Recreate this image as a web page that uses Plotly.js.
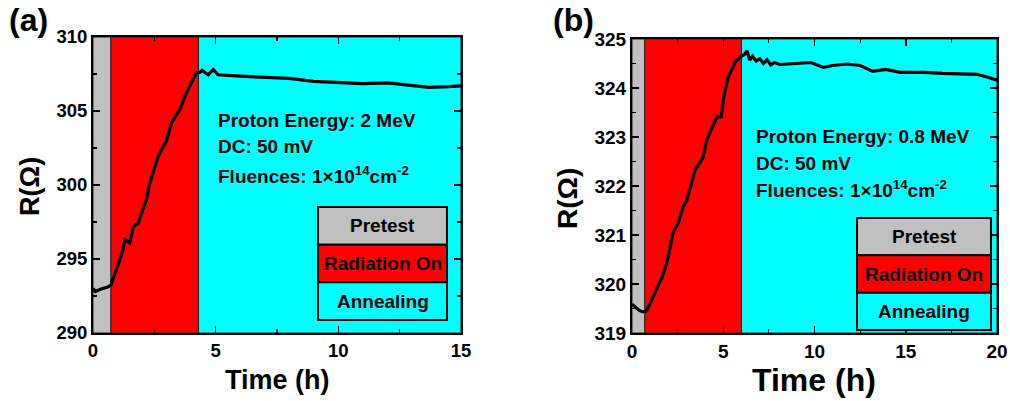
<!DOCTYPE html>
<html>
<head>
<meta charset="utf-8">
<script src="https://cdn.plot.ly/plotly-3.0.1.min.js"></script>
<style>html,body{margin:0;padding:0;background:#fff;}#chart{width:1010px;height:401px;}</style>
</head>
<body>
<div id="chart"></div>
<script>
// ---------- data ----------
const timeA = [0, 0.1, 0.3, 0.6, 0.73, 0.9, 1.17, 1.3, 1.45, 1.5, 1.64, 1.84, 2.0, 2.18, 2.28, 2.44, 2.65, 2.8, 3.0, 3.2, 3.54, 3.8, 4.0, 4.22, 4.35, 4.45, 4.6, 4.7, 4.9, 5.1, 6, 7, 8, 9, 10.3, 11, 12, 13, 13.7, 14.5, 15];
const resA = [293.0, 292.8, 292.95, 293.1, 293.24, 294.05, 295.3, 296.3, 296.15, 296.1, 297.2, 297.4, 298.2, 299.0, 299.9, 300.8, 301.9, 302.4, 303.0, 304.2, 305.1, 306.2, 306.9, 307.6, 307.6, 307.75, 307.55, 307.45, 307.8, 307.45, 307.35, 307.3, 307.2, 307.0, 306.9, 306.85, 306.9, 306.75, 306.6, 306.65, 306.7];

const timeB = [0, 0.2, 0.4, 0.6, 0.8, 1.0, 1.2, 1.37, 1.65, 1.92, 2.1, 2.25, 2.53, 2.8, 3.0, 3.15, 3.46, 3.9, 4.1, 4.4, 4.67, 4.9, 5.0, 5.27, 5.66, 5.93, 6.0, 6.15, 6.3, 6.45, 6.6, 6.8, 7.0, 7.2, 7.4, 7.6, 7.8, 8.1, 9.0, 9.8, 10.5, 11.0, 11.8, 12.5, 13.2, 13.9, 14.7, 16, 17, 18, 18.9, 19.5, 20];
const resB = [319.59, 319.52, 319.46, 319.43, 319.45, 319.61, 319.78, 319.92, 320.14, 320.45, 320.8, 321.04, 321.24, 321.57, 321.7, 321.92, 322.33, 322.59, 322.94, 323.2, 323.41, 323.41, 323.76, 324.22, 324.53, 324.63, 324.65, 324.68, 324.76, 324.57, 324.65, 324.55, 324.6, 324.5, 324.58, 324.47, 324.52, 324.48, 324.5, 324.52, 324.42, 324.46, 324.49, 324.46, 324.34, 324.38, 324.32, 324.32, 324.3, 324.29, 324.28, 324.22, 324.16];

// tick values / labels
const xTicksA = [0, 5, 10, 15];
const yTicksA = [290, 295, 300, 305, 310];
const xTicksB = [0, 5, 10, 15, 20];
const yTicksB = [319, 320, 321, 322, 323, 324, 325];

// phase boundaries (h)
const phasesA = [0, 0.73, 4.3, 15];
const phasesB = [0, 0.7, 6.0, 20];
const phaseNames = ['Pretest', 'Radiation On', 'Annealing'];
const phaseColors = ['#c0c0c0', '#ff0000', '#00ffff'];

const infoA = ['Proton Energy: 2 MeV', 'DC: 50 mV', 'Fluences: 1×10<sup>14</sup>cm<sup>-2</sup>'];
const infoB = ['Proton Energy: 0.8 MeV', 'DC: 50 mV', 'Fluences: 1×10<sup>14</sup>cm<sup>-2</sup>'];

// ---------- layout helpers ----------
const W = 1010, H = 401;
const px = x => x / W;
const py = y => 1 - y / H;
const FONT = 'Liberation Sans, Arial, Helvetica, sans-serif';
const b = t => '<b>' + t + '</b>';

function axisBase(range, vals, minorDtick, size) {
  return {
    range: range, tickmode: 'array', tickvals: vals, ticktext: vals.map(v => b(String(v))),
    ticks: 'inside', ticklen: 7, tickwidth: 1.5, tickcolor: '#000',
    minor: {dtick: minorDtick, tick0: range[0], ticks: 'inside', ticklen: 4, tickwidth: 1.2, tickcolor: '#000'},
    showline: true, linecolor: '#000', linewidth: 2, mirror: 'allticks',
    showgrid: false, zeroline: false, fixedrange: true,
    tickfont: {family: FONT, size: size, color: '#000'}
  };
}

const shapes = [];
const annotations = [];

function addPhases(phases, xref, yref) {
  for (let i = 0; i < phaseNames.length; i++) {
    shapes.push({type: 'rect', layer: 'below', xref: xref, yref: yref + ' domain',
      x0: phases[i], x1: phases[i + 1], y0: 0, y1: 1,
      fillcolor: phaseColors[i], line: {color: '#222', width: 1}});
  }
}
function addLegendBox(x0, x1, y0, y1, size) {
  const h = (y1 - y0) / phaseNames.length;
  for (let i = 0; i < phaseNames.length; i++) {
    const ya = y0 + i * h, yb = ya + h;
    shapes.push({type: 'rect', xref: 'paper', yref: 'paper',
      x0: px(x0), x1: px(x1), y0: py(yb), y1: py(ya),
      fillcolor: phaseColors[i], line: {color: '#000', width: 2}});
    annotations.push({xref: 'paper', yref: 'paper', x: px((x0 + x1) / 2), y: py((ya + yb) / 2),
      text: b(phaseNames[i]), showarrow: false, xanchor: 'center', yanchor: 'middle',
      font: {family: FONT, size: size, color: '#000'}});
  }
}
function addInfo(lines, x, ys, size) {
  lines.forEach((t, i) => annotations.push({xref: 'paper', yref: 'paper', x: px(x), y: py(ys[i]),
    text: b(t), showarrow: false, xanchor: 'left', yanchor: 'middle',
    font: {family: FONT, size: size, color: '#000'}}));
}

addPhases(phasesA, 'x', 'y');
addPhases(phasesB, 'x2', 'y2');
addLegendBox(318, 447, 207, 320, 19);
addLegendBox(857, 991, 218, 330, 19);
addInfo(infoA, 216, [120, 147, 175], 19);
addInfo(infoB, 754, [137, 163, 189], 19);

function addText(text, x, y, size, angle) {
  annotations.push({xref: 'paper', yref: 'paper', x: px(x), y: py(y), text: b(text), showarrow: false,
    textangle: angle || 0, xanchor: 'center', yanchor: 'middle',
    font: {family: FONT, size: size, color: '#000'}});
}
// panel labels
addText('(a)', 28, 20, 32);
addText('(b)', 573, 20, 32);
// axis titles
addText('R(Ω)', 30, 187, 27, -90);
addText('R(Ω)', 567, 199, 28, -90);
addText('Time (h)', 277, 380, 27);
addText('Time (h)', 814, 380, 32);

const traces = [
  {x: timeA, y: resA, xaxis: 'x', yaxis: 'y', type: 'scatter', mode: 'lines',
   line: {color: '#000', width: 3.2}, showlegend: false, hoverinfo: 'skip'},
  {x: timeB, y: resB, xaxis: 'x2', yaxis: 'y2', type: 'scatter', mode: 'lines',
   line: {color: '#000', width: 3.2}, showlegend: false, hoverinfo: 'skip'}
];

const layout = {
  width: W, height: H,
  margin: {l: 0, r: 0, t: 0, b: 0},
  paper_bgcolor: '#fff', plot_bgcolor: 'rgba(0,0,0,0)',
  showlegend: false,
  xaxis: Object.assign(axisBase([0, 15], xTicksA, 2.5, 18.5), {domain: [px(93), px(461)], anchor: 'y'}),
  yaxis: Object.assign(axisBase([290, 310], yTicksA, 2.5, 18.5), {domain: [py(333), py(37)], anchor: 'x'}),
  xaxis2: Object.assign(axisBase([0, 20], xTicksB, 2.5, 19), {domain: [px(632), px(997)], anchor: 'y2'}),
  yaxis2: Object.assign(axisBase([319, 325], yTicksB, 0.5, 19), {domain: [py(333), py(39)], anchor: 'x2'}),
  shapes: shapes,
  annotations: annotations
};

Plotly.newPlot('chart', traces, layout, {displayModeBar: false, staticPlot: true});
</script>
</body>
</html>
